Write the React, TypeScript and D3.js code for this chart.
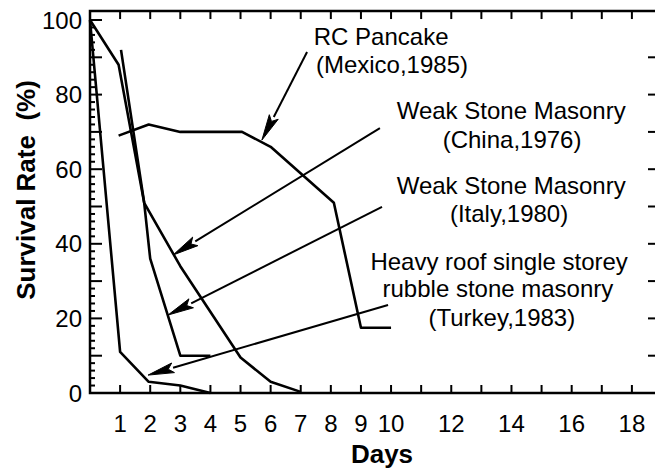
import React from 'react';
import * as d3 from 'd3';

// ---- data (days, survival rate %) ----
const turkeyDays = [0, 1, 1.95, 3, 4];
const turkeyRate = [100, 11, 3, 2, 0];

const italyDays = [0, 0.95, 1.8, 2, 3, 4];
const italyRate = [100, 88, 51, 36, 10, 10];

const chinaDays = [1.03, 1.8, 3, 5, 6, 7];
const chinaRate = [92, 51, 34, 9.5, 3, 0.3];

const mexicoDays = [0.95, 1.95, 3, 5.05, 6, 8.1, 9, 10];
const mexicoRate = [69, 72, 70, 70, 66, 51, 17.5, 17.5];

// x tick labels
const xTickLabels = [1, 2, 3, 4, 5, 6, 7, 8, 9, 10, 12, 14, 16, 18];
const yTickLabels = [0, 20, 40, 60, 80, 100];

// annotation arrows (data units)
const arrowFromDay = [7.21, 9.63, 9.7, 9.9];
const arrowFromRate = [91.4, 71.0, 49.9, 23.6];
const arrowToDay = [5.71, 2.76, 2.59, 1.93];
const arrowToRate = [67.8, 37.0, 20.9, 4.8];

// annotation labels (data units, centred)
const labelText = [
  'RC Pancake', '(Mexico,1985)',
  'Weak Stone Masonry', '(China,1976)',
  'Weak Stone Masonry', '(Italy,1980)',
  'Heavy roof single storey', 'rubble stone masonry', '(Turkey,1983)',
];
const labelDay = [9.67, 10.03, 13.99, 14.02, 13.99, 13.92, 13.59, 13.55, 13.68];
const labelRate = [93.3, 85.8, 73.5, 65.7, 53.4, 45.8, 33.0, 25.7, 18.0];

const W = 655;
const H = 473;
const FONT = "'Liberation Sans', Arial, Helvetica, sans-serif";

export default function App() {
  const x = d3.scaleLinear().domain([0, 19]).range([90, 662]);
  const y = d3.scaleLinear().domain([0, 100]).range([393, 20]);
  const yTop = y(102.4);
  const yBot = y(0);
  const xL = x(0);
  const xR = x(19);

  const line = d3
    .line<[number, number]>()
    .x((d) => x(d[0]))
    .y((d) => y(d[1]));

  const series = [
    d3.zip(turkeyDays, turkeyRate) as [number, number][],
    d3.zip(italyDays, italyRate) as [number, number][],
    d3.zip(chinaDays, chinaRate) as [number, number][],
    d3.zip(mexicoDays, mexicoRate) as [number, number][],
  ];

  const leftTicks = d3.range(2, 102, 2);
  const dayTicks = d3.range(1, 19, 1);
  const rightTicks = d3.range(10, 100, 10);

  const arrows = arrowFromDay.map((_, i) => {
    const x1 = x(arrowFromDay[i]);
    const y1 = y(arrowFromRate[i]);
    const x2 = x(arrowToDay[i]);
    const y2 = y(arrowToRate[i]);
    const dx = x2 - x1;
    const dy = y2 - y1;
    const len = Math.hypot(dx, dy);
    const ux = dx / len;
    const uy = dy / len;
    const hl = 26;
    const hw = 5;
    const bx = x2 - ux * hl;
    const by = y2 - uy * hl;
    const pts = [
      [x2, y2],
      [bx - uy * hw, by + ux * hw],
      [x2 - ux * (hl - 5), y2 - uy * (hl - 5)],
      [bx + uy * hw, by - ux * hw],
    ];
    return { x1, y1, bx, by, pts: pts.map((p) => p.join(',')).join(' ') };
  });

  return (
    <svg
      width={W}
      height={H}
      style={{ position: 'absolute', left: 0, top: 0, background: '#fff' }}
    >
      <rect x={0} y={0} width={W} height={H} fill="#fff" />
      {/* frame */}
      <path
        d={`M${xR},${yTop}H${xL}V${yBot}H${xR}`}
        fill="none"
        stroke="#000"
        strokeWidth={2.5}
      />
      <line x1={xR} x2={xR} y1={yTop} y2={yBot} stroke="#000" strokeWidth={2.5} />
      {/* left ticks */}
      {leftTicks.map((v) => (
        <line
          key={'l' + v}
          x1={xL}
          x2={xL + (v % 10 === 0 ? 12 : 5)}
          y1={y(v)}
          y2={y(v)}
          stroke="#000"
          strokeWidth={2}
        />
      ))}
      {/* bottom and top ticks */}
      {dayTicks.map((d) => (
        <g key={'d' + d}>
          <line x1={x(d)} x2={x(d)} y1={yBot} y2={yBot - 8} stroke="#000" strokeWidth={2} />
          <line x1={x(d)} x2={x(d)} y1={yTop} y2={yTop + 8} stroke="#000" strokeWidth={2} />
        </g>
      ))}
      {/* right ticks */}
      {rightTicks.map((v) => (
        <line key={'r' + v} x1={xR} x2={xR - 14} y1={y(v)} y2={y(v)} stroke="#000" strokeWidth={2} />
      ))}
      {/* tick labels */}
      {yTickLabels.map((v) => (
        <text
          key={'yl' + v}
          x={82}
          y={y(v)}
          dy="0.36em"
          textAnchor="end"
          fontFamily={FONT}
          fontSize={24}
          fill="#000"
        >
          {v}
        </text>
      ))}
      {xTickLabels.map((d) => (
        <text
          key={'xl' + d}
          x={x(d)}
          y={432}
          textAnchor="middle"
          fontFamily={FONT}
          fontSize={24}
          fill="#000"
        >
          {d}
        </text>
      ))}
      {/* axis titles */}
      <text
        x={(xL + xR) / 2 + 6}
        y={463}
        textAnchor="middle"
        fontFamily={FONT}
        fontSize={26}
        fontWeight="bold"
        fill="#000"
      >
        Days
      </text>
      <text
        transform={`translate(35,190) rotate(-90)`}
        textAnchor="middle"
        fontFamily={FONT}
        fontSize={26}
        fontWeight="bold"
        fill="#000"
        style={{ whiteSpace: 'pre' }}
      >
        {'Survival Rate  (%)'}
      </text>
      {/* data lines */}
      {series.map((s, i) => (
        <path
          key={'s' + i}
          d={line(s) || ''}
          fill="none"
          stroke="#000"
          strokeWidth={2.6}
          strokeLinejoin="round"
        />
      ))}
      {/* arrows */}
      {arrows.map((a, i) => (
        <g key={'a' + i}>
          <line x1={a.x1} y1={a.y1} x2={a.bx} y2={a.by} stroke="#000" strokeWidth={2} />
          <polygon points={a.pts} fill="#000" stroke="#000" strokeWidth={1} strokeLinejoin="miter" />
        </g>
      ))}
      {/* labels */}
      {labelText.map((t, i) => (
        <text
          key={'t' + i}
          x={x(labelDay[i])}
          y={y(labelRate[i])}
          textAnchor="middle"
          fontFamily={FONT}
          fontSize={24}
          fill="#000"
        >
          {t}
        </text>
      ))}
    </svg>
  );
}
